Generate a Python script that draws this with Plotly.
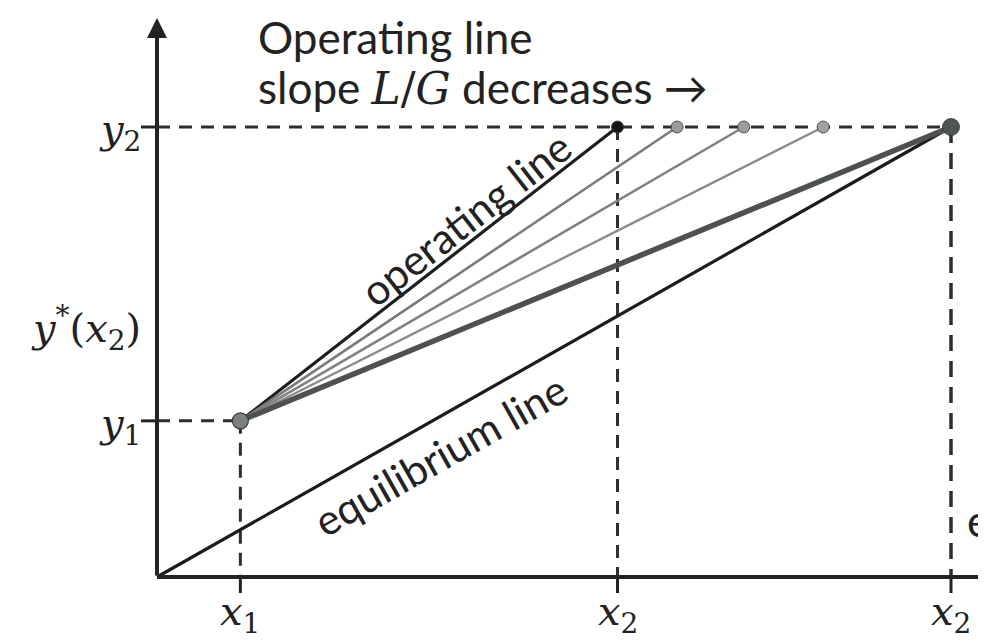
import plotly.graph_objects as go

# ---- data (abstract diagram units: origin 0, pinch x = 1, y2 = 1) ----
x1 = 0.105
x2 = 0.58
x_pinch = 1.0
y1 = 0.347
y2 = 1.0
# upper ends of the operating lines (x at y2), slope L/G decreasing
op_end_x = [0.58, 0.655, 0.739, 0.839, 1.0]
op_colors = ["#1e1e1e", "#7a7a7a", "#818181", "#8b8b8b", "#4d524f"]
op_widths = [3.2, 2.6, 2.6, 2.4, 5.5]
end_colors = ["#151515", "#9a9a9a", "#9d9d9d", "#a2a2a2", "#4f5550"]
end_sizes = [12, 12, 12, 12, 17]
eq_x = [0.0, 1.0]
eq_y = [0.0, 1.0]
x_tick_labels = ["<i>x</i><sub>1</sub>", "<i>x</i><sub>2</sub>", "<i>x</i><sub>2</sub>"]
x_tick_vals = [x1, x2, x_pinch]
y_tick_labels = ["<i>y</i><sub>2</sub>", "<i>y</i><sub>1</sub>"]
y_tick_vals = [y2, y1]
ystar_label = "<i>y</i><sup>*</sup>(<i>x</i><sub>2</sub>)"
ystar_val = 0.58

AX = "#232323"
DASH = "#2e2e2e"
MATH_FONT = "DejaVu Serif"
TEXT_FONT = "Lato"
MATH_SIZE = 40
TEXT_SIZE = 42
TITLE_SIZE = 44

fig = go.Figure()

# equilibrium line
fig.add_trace(go.Scatter(x=eq_x, y=eq_y, mode="lines",
                         line=dict(color="#1c1c1c", width=3.2), hoverinfo="skip"))

# operating lines
for ex, c, w in zip(op_end_x, op_colors, op_widths):
    fig.add_trace(go.Scatter(x=[x1, ex], y=[y1, y2], mode="lines",
                             line=dict(color=c, width=w), hoverinfo="skip"))
# end markers
for ex, c, s in zip(op_end_x, end_colors, end_sizes):
    fig.add_trace(go.Scatter(x=[ex], y=[y2], mode="markers",
                             marker=dict(color=c, size=s, line=dict(color="#333", width=0.8)),
                             hoverinfo="skip"))
# lower point
fig.add_trace(go.Scatter(x=[x1], y=[y1], mode="markers",
                         marker=dict(color="#7b7f7d", size=16, line=dict(color="#3a3a3a", width=1.2)),
                         hoverinfo="skip"))

shapes = []
dash = "13px,9px"
# dashed guides
shapes.append(dict(type="line", xref="x", yref="y", x0=0, x1=x_pinch, y0=y2, y1=y2,
                   line=dict(color=DASH, width=3, dash=dash), layer="below"))
shapes.append(dict(type="line", xref="x", yref="y", x0=0, x1=x1, y0=y1, y1=y1,
                   line=dict(color=DASH, width=3, dash=dash), layer="below"))
shapes.append(dict(type="line", xref="x", yref="y", x0=x1, x1=x1, y0=y1, y1=0,
                   line=dict(color=DASH, width=3, dash=dash), layer="below"))
shapes.append(dict(type="line", xref="x", yref="y", x0=x2, x1=x2, y0=y2, y1=0,
                   line=dict(color=DASH, width=3, dash=dash), layer="below"))
shapes.append(dict(type="line", xref="x", yref="y", x0=x_pinch, x1=x_pinch, y0=y2, y1=0,
                   line=dict(color=DASH, width=3.5, dash="16px,10px"), layer="below"))
# x axis
shapes.append(dict(type="line", xref="x", yref="y", x0=0, x1=1.1, y0=0, y1=0,
                   line=dict(color=AX, width=4)))
# ticks
for v in y_tick_vals:
    shapes.append(dict(type="line", xref="x", yref="y", xsizemode="pixel", xanchor=0,
                       x0=-16, x1=0, y0=v, y1=v, line=dict(color=AX, width=3)))
for v in x_tick_vals:
    shapes.append(dict(type="line", xref="x", yref="y", ysizemode="pixel", yanchor=0,
                       x0=v, x1=v, y0=-16, y1=0, line=dict(color=AX, width=3)))

annotations = []
# y axis with arrow
annotations.append(dict(x=0, y=1.242, ax=0, ay=0, xref="x", yref="y", axref="x", ayref="y",
                        text="", showarrow=True, arrowhead=2, arrowsize=1.0, arrowwidth=4,
                        arrowcolor=AX, standoff=0, startstandoff=0))
# tick labels
for v, t in zip(x_tick_vals, x_tick_labels):
    annotations.append(dict(x=v, y=0, xref="x", yref="y", text=t, showarrow=False,
                            yanchor="top", yshift=-9,
                            font=dict(family=MATH_FONT, size=MATH_SIZE, color="#222")))
for v, t in zip(y_tick_vals, y_tick_labels):
    annotations.append(dict(x=0, y=v, xref="x", yref="y", text=t, showarrow=False,
                            xanchor="right", xshift=-14, yshift=-5,
                            font=dict(family=MATH_FONT, size=MATH_SIZE, color="#222")))
annotations.append(dict(x=0, y=ystar_val, xref="x", yref="y", text=ystar_label, showarrow=False,
                        xanchor="right", xshift=-14, yshift=-12,
                        font=dict(family=MATH_FONT, size=MATH_SIZE, color="#222")))
# line labels
annotations.append(dict(x=(x1 + x2) / 2, y=(y1 + y2) / 2, xref="x", yref="y",
                        text="operating line", showarrow=False, textangle=-38,
                        xshift=37, yshift=56,
                        font=dict(family=TEXT_FONT, size=TEXT_SIZE, color="#222")))
annotations.append(dict(x=0.356, y=0.356, xref="x", yref="y",
                        text="equilibrium line", showarrow=False, textangle=-29.5,
                        xshift=0, yshift=-38,
                        font=dict(family=TEXT_FONT, size=TEXT_SIZE, color="#222")))
# title text
annotations.append(dict(x=0.125, y=1.2, xref="x", yref="y", text="Operating line",
                        showarrow=False, xanchor="left", yanchor="middle",
                        font=dict(family=TEXT_FONT, size=TITLE_SIZE, color="#222")))
annotations.append(dict(x=0.125, y=1.087, xref="x", yref="y",
                        text="slope <span style=\"font-family:DejaVu Serif\"><i>L</i>/<i>G</i></span> decreases →",
                        showarrow=False, xanchor="left", yanchor="middle",
                        font=dict(family=TEXT_FONT, size=TITLE_SIZE, color="#222")))
# clipped text at right edge
annotations.append(dict(x=1.018, y=0.127, xref="x", yref="y", text="e", showarrow=False,
                        xanchor="left", font=dict(family=TEXT_FONT, size=TITLE_SIZE, color="#222")))

# the page body adds an 8px margin, so the figure is sized 978x633
fig.update_layout(
    width=978, height=633,
    margin=dict(l=0, r=0, t=0, b=0),
    paper_bgcolor="white", plot_bgcolor="white",
    showlegend=False,
    xaxis=dict(range=[-0.18766, 1.04408], visible=False, fixedrange=True),
    yaxis=dict(range=[-0.14222, 1.26444], visible=False, fixedrange=True),
    shapes=shapes, annotations=annotations,
)

fig.write_html("out.html")
